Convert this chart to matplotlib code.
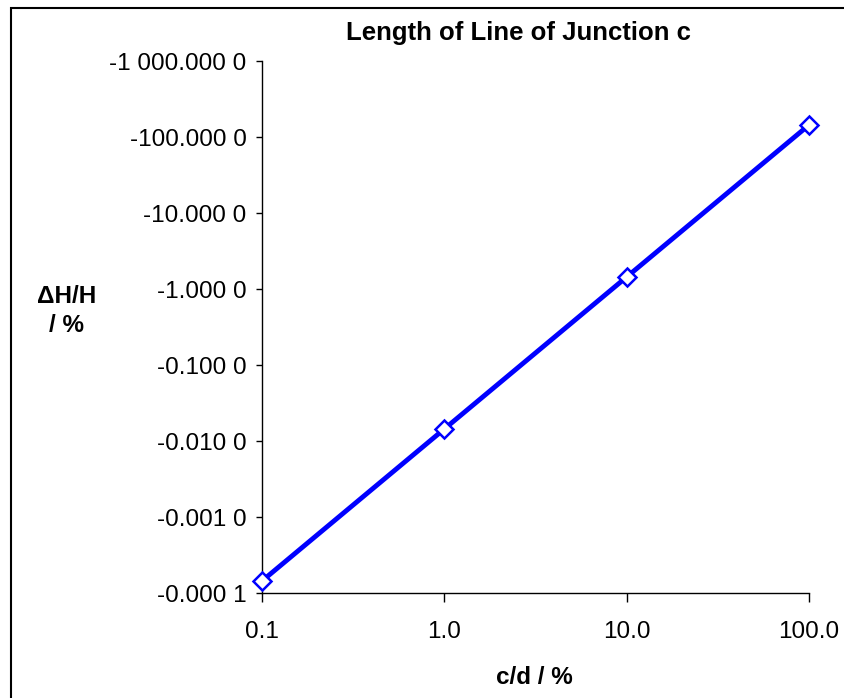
import numpy as np
import matplotlib.pyplot as plt
from matplotlib.patches import Rectangle

plt.rcParams['font.family'] = ['Liberation Sans', 'DejaVu Sans']

# datos
c_d = [0.1, 1.0, 10.0, 100.0]
dH_H = [-0.000144, -0.0144, -1.44, -144.0]

x_ticks = [0.1, 1.0, 10.0, 100.0]
x_labels = ["0.1", "1.0", "10.0", "100.0"]
y_ticks = [1e-4, 1e-3, 1e-2, 1e-1, 1e0, 1e1, 1e2, 1e3]
y_labels = ["-0.000 1", "-0.001 0", "-0.010 0", "-0.100 0",
            "-1.000 0", "-10.000 0", "-100.000 0", "-1 000.000 0"]

W, H = 845, 698
fs = 17.5
fig = plt.figure(figsize=(W/100, H/100), dpi=100)
ax = fig.add_axes([262/W, 1-593/H, (809-262)/W, (593-61)/H])

# borde del area del grafico (recortado a la derecha y abajo)
fig.patches.append(Rectangle((11/W, -0.1), 1.2, 1-8/H+0.1, transform=fig.transFigure,
                             fill=False, edgecolor='black', linewidth=1.5, zorder=0))

# el eje y muestra valores negativos, se grafica la magnitud
ax.plot(c_d, np.abs(dH_H), color='#0000FF', linewidth=3.5, marker='D', markersize=9,
        markerfacecolor='white', markeredgecolor='#0000FF', markeredgewidth=1.8,
        clip_on=False, zorder=5)

ax.set_xscale('log')
ax.set_yscale('log')
ax.set_xlim(0.1, 100)
ax.set_ylim(1e-4, 1e3)
ax.set_xticks(x_ticks)
ax.set_xticklabels(x_labels)
ax.set_yticks(y_ticks)
ax.set_yticklabels(y_labels)
ax.minorticks_off()
ax.tick_params(axis='x', direction='out', length=6.5, width=1, pad=14, labelsize=fs)
ax.tick_params(axis='y', direction='out', length=4.5, width=1, pad=6.5, labelsize=fs)

for s in ['top', 'right']:
    ax.spines[s].set_visible(False)
for s in ['left', 'bottom']:
    ax.spines[s].set_linewidth(1)

fig.text(518/W, 1-33/H, 'Length of Line of Junction c', ha='center', va='center',
         fontsize=18.5, fontweight='bold')
fig.text(67/W, 1-311/H, '\u0394H/H\n/ %', ha='center', va='center',
         fontsize=fs, fontweight='bold', linespacing=1.3)
fig.text(534/W, 1-677/H, 'c/d / %', ha='center', va='center',
         fontsize=fs, fontweight='bold')

fig.savefig('out.png', dpi=100)
